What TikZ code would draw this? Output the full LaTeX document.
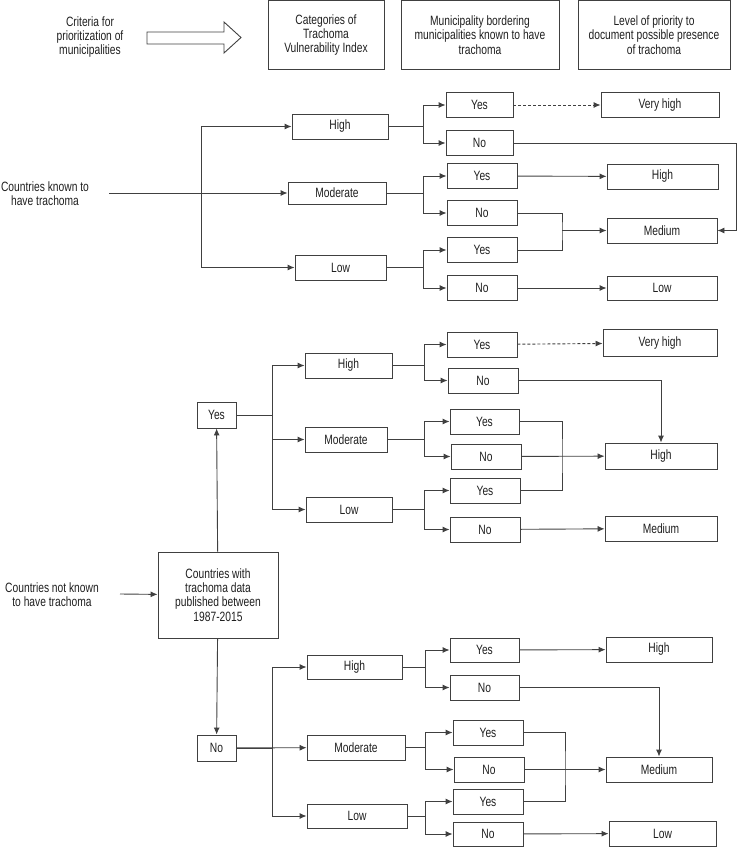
\documentclass[tikz,border=0pt]{standalone}
\usepackage{fontspec}
\setmainfont{Liberation Sans}[FakeStretch=0.76]
\usepackage{xcolor}
\usetikzlibrary{shapes,arrows,arrows.meta}
\definecolor{ln}{gray}{0.25}
\definecolor{tx}{gray}{0.12}
\tikzstyle{line} = [draw, -{Latex[length=7pt,width=6pt]}]
\tikzstyle{box} = [draw, rectangle, inner sep=1pt, align=center, text=tx]
\tikzstyle{lbl} = [align=center, text=tx]

\begin{document}
\begin{tikzpicture}[x=1pt, y=-1pt, draw=ln, line width=0.9pt,
  font=\fontsize{13.5}{14.2}\selectfont]
\useasboundingbox (0,0) rectangle (737,847);
%
\node[lbl] (crit) at (90,37) {Criteria for\\prioritization of\\municipalities};
\draw (147,32) -- (224,32) -- (224,22) -- (241,37.5) -- (224,53) -- (224,44) -- (147,44) -- cycle;
\node[box, minimum width=116, minimum height=69] (hcat) at (326,35) {Categories of\\Trachoma\\Vulnerability Index};
\node[box, minimum width=158, minimum height=69] (hbord) at (480,35) {Municipality bordering\\municipalities known to have\\trachoma};
\node[box, minimum width=152, minimum height=69] (hprio) at (654,35) {Level of priority to\\document possible presence\\of trachoma};
%
\node[lbl] (known) at (45,194) {Countries known to\\have trachoma};
\coordinate (kin) at (109,193);
\node[box, minimum width=96, minimum height=25] (aH) at (340,126.5) {High};
\node[box, minimum width=98, minimum height=22] (aM) at (337,193) {Moderate};
\node[box, minimum width=91, minimum height=25] (aL) at (340.5,267.5) {Low};
\node[box, minimum width=67, minimum height=25] (aHY) at (479.5,105) {Yes};
\node[box, minimum width=67, minimum height=25] (aHN) at (479.5,143) {No};
\node[box, minimum width=70, minimum height=25] (aMY) at (482,176) {Yes};
\node[box, minimum width=70, minimum height=25] (aMN) at (482,213) {No};
\node[box, minimum width=70, minimum height=25] (aLY) at (482,250) {Yes};
\node[box, minimum width=70, minimum height=25] (aLN) at (482,288) {No};
\node[box, minimum width=118, minimum height=25] (aVH) at (660,105) {Very high};
\node[box, minimum width=111, minimum height=25] (aHi) at (662.5,176.5) {High};
\node[box, minimum width=110, minimum height=25] (aMe) at (662,230.5) {Medium};
\node[box, minimum width=110, minimum height=24] (aLo) at (662,288) {Low};
\coordinate (aJ) at (562,230.5);
%
\path[line] (kin) -- (aM);
\path[line] (201,193) |- (aH);
\path[line] (201,193) |- (aL);
\path[line] (aH.east) -- ++(35,0) |- (aHY);
\path[line] (aH.east) -- ++(35,0) |- (aHN);
\path[line] (aM.east) -- ++(37,0) |- (aMY);
\path[line] (aM.east) -- ++(37,0) |- (aMN);
\path[line] (aL.east) -- ++(37,0) |- (aLY);
\path[line] (aL.east) -- ++(37,0) |- (aLN);
\path[line, dash pattern=on 3pt off 2pt] (aHY) -- (aVH);
\path[line] (aHN) -| ([xshift=19pt]aMe.east) -- (aMe);
\path[line] (aMY) -- (aHi);
\draw (aMN) -| (aJ) |- (aLY);
\path[line] (aJ) -- (aMe);
\path[line] (aLN) -- (aLo);
%
\node[lbl] (notknown) at (52,595) {Countries not known\\to have trachoma};
\coordinate (nkin) at (120,594);
\node[box, minimum width=120, minimum height=86] (cd) at (218,595) {Countries with\\trachoma data\\published between\\1987-2015};
\node[box, minimum width=39, minimum height=26] (bY) at (216.5,415) {Yes};
\node[box, minimum width=39, minimum height=26] (bN) at (216.5,748) {No};
\path[line] (nkin) -- (cd);
\path[line] (cd) -- (bY);
\path[line] (cd) -- (bN);
%
\node[box, minimum width=87, minimum height=25] (bH) at (348.5,365.5) {High};
\node[box, minimum width=82, minimum height=25] (bM) at (346,439.5) {Moderate};
\node[box, minimum width=86, minimum height=25] (bL) at (349,509.5) {Low};
\node[box, minimum width=70, minimum height=25] (bHY) at (482,344.5) {Yes};
\node[box, minimum width=70, minimum height=25] (bHN) at (483,380.5) {No};
\node[box, minimum width=69, minimum height=25] (bMY) at (484.5,421.5) {Yes};
\node[box, minimum width=70, minimum height=25] (bMN) at (486,456.5) {No};
\node[box, minimum width=70, minimum height=25] (bLY) at (485,490.5) {Yes};
\node[box, minimum width=70, minimum height=25] (bLN) at (485,529.5) {No};
\node[box, minimum width=114, minimum height=27] (bVH) at (660,343) {Very high};
\node[box, minimum width=112, minimum height=26] (bHi) at (661,456) {High};
\node[box, minimum width=112, minimum height=25] (bMe) at (661,528.5) {Medium};
\coordinate (bJ) at (562,456);
%
\path[line] (bY.east) -- ++(36,0) |- (bH);
\path[line] (bY.east) -- ++(36,0) |- (bM);
\path[line] (bY.east) -- ++(36,0) |- (bL);
\path[line] (bH.east) -- ++(32,0) |- (bHY);
\path[line] (bH.east) -- ++(32,0) |- (bHN);
\path[line] (bM.east) -- ++(37,0) |- (bMY);
\path[line] (bM.east) -- ++(37,0) |- (bMN);
\path[line] (bL.east) -- ++(32,0) |- (bLY);
\path[line] (bL.east) -- ++(32,0) |- (bLN);
\path[line, dash pattern=on 3pt off 2pt] (bHY) -- (bVH);
\path[line] (bHN) -| (bHi);
\draw (bMY) -| (bJ) |- (bLY);
\path[line] (bMN) -- (bHi);
\path[line] (bLN) -- (bMe);
%
\node[box, minimum width=95, minimum height=24] (cH) at (354.5,667) {High};
\node[box, minimum width=98, minimum height=25] (cM) at (356,747.5) {Moderate};
\node[box, minimum width=100, minimum height=24] (cL) at (357,816) {Low};
\node[box, minimum width=69, minimum height=24] (cHY) at (484.5,650) {Yes};
\node[box, minimum width=69, minimum height=25] (cHN) at (484.5,687.5) {No};
\node[box, minimum width=70, minimum height=25] (cMY) at (488,732.5) {Yes};
\node[box, minimum width=70, minimum height=25] (cMN) at (489,769.5) {No};
\node[box, minimum width=70, minimum height=25] (cLY) at (488,801.5) {Yes};
\node[box, minimum width=70, minimum height=24] (cLN) at (488,834) {No};
\node[box, minimum width=106, minimum height=25] (cHi) at (659,649.5) {High};
\node[box, minimum width=106, minimum height=25] (cMe) at (659,769.5) {Medium};
\node[box, minimum width=107, minimum height=25] (cLo) at (662.5,833.5) {Low};
\coordinate (cJ) at (565,769.5);
%
\path[line] (bN) -- (cM);
\path[line] (bN.east) -- ++(36,0) |- (cH);
\path[line] (bN.east) -- ++(36,0) |- (cL);
\path[line] (cH.east) -- ++(23,0) |- (cHY);
\path[line] (cH.east) -- ++(23,0) |- (cHN);
\path[line] (cM.east) -- ++(20,0) |- (cMY);
\path[line] (cM.east) -- ++(20,0) |- (cMN);
\path[line] (cL.east) -- ++(18,0) |- (cLY);
\path[line] (cL.east) -- ++(18,0) |- (cLN);
\path[line] (cHY) -- (cHi);
\path[line] (cHN) -| (cMe);
\draw (cMY) -| (cJ) |- (cLY);
\path[line] (cMN) -- (cMe);
\path[line] (cLN) -- (cLo);
\end{tikzpicture}
\end{document}
